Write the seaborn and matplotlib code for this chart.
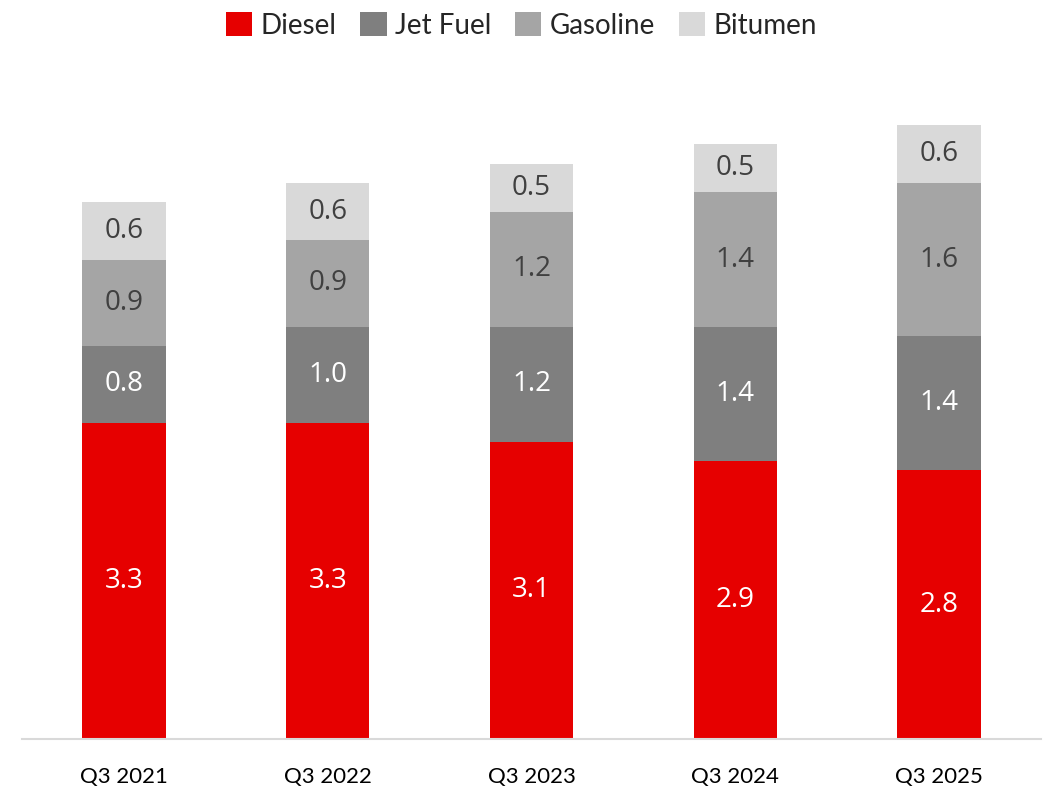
import matplotlib
matplotlib.use("Agg")
import matplotlib.pyplot as plt
from matplotlib.patches import Patch
import numpy as np
import seaborn as sns

quarters = ["Q3 2021", "Q3 2022", "Q3 2023", "Q3 2024", "Q3 2025"]
diesel = [3.3, 3.3, 3.1, 2.9, 2.8]
jet_fuel = [0.8, 1.0, 1.2, 1.4, 1.4]
gasoline = [0.9, 0.9, 1.2, 1.4, 1.6]
bitumen = [0.6, 0.6, 0.5, 0.5, 0.6]

series = [
    ("Diesel", diesel, "#E60000", "white"),
    ("Jet Fuel", jet_fuel, "#7F7F7F", "white"),
    ("Gasoline", gasoline, "#A5A5A5", "#404040"),
    ("Bitumen", bitumen, "#D9D9D9", "#404040"),
]

sns.set_theme(style="white")
plt.rcParams["font.family"] = ["Lato", "DejaVu Sans"]

fig = plt.figure(figsize=(10.43, 7.88), dpi=100)
ax = fig.add_axes([22 / 1043, 49 / 788, 1019 / 1043, 671.3 / 788])

# stacked bars: draw cumulative totals from the top segment down
values = np.array([s[1] for s in series])
cum = np.cumsum(values, axis=0)
for i in range(len(series) - 1, -1, -1):
    sns.barplot(x=quarters, y=cum[i], color=series[i][2], width=0.41,
                saturation=1, ax=ax, linewidth=0)

# segment value labels
for i, (name, vals, col, tcol) in enumerate(series):
    base = cum[i] - values[i]
    for j, v in enumerate(vals):
        ax.text(j, base[j] + v / 2, f"{v:.1f}", ha="center", va="center",
                fontsize=20, color=tcol, family=["Open Sans", "DejaVu Sans"])

ax.set_xlim(-0.5, 4.5)
ax.set_ylim(0, 7)
ax.set_yticks([])
ax.set_ylabel("")
for side in ["top", "right", "left"]:
    ax.spines[side].set_visible(False)
ax.spines["bottom"].set_color("#D9D9D9")
ax.spines["bottom"].set_linewidth(1.5)
ax.tick_params(axis="x", length=0, pad=20, labelsize=16, labelcolor="black")

handles = [Patch(facecolor=s[2], edgecolor="none", label=s[0]) for s in series]
fig.legend(handles=handles, loc="upper center", bbox_to_anchor=(0.5, 1.017),
           ncol=4, frameon=False, fontsize=20, handlelength=0.95,
           handleheight=1.0, handletextpad=0.3, columnspacing=0.85)

fig.savefig("out.png", dpi=100, facecolor="white")
